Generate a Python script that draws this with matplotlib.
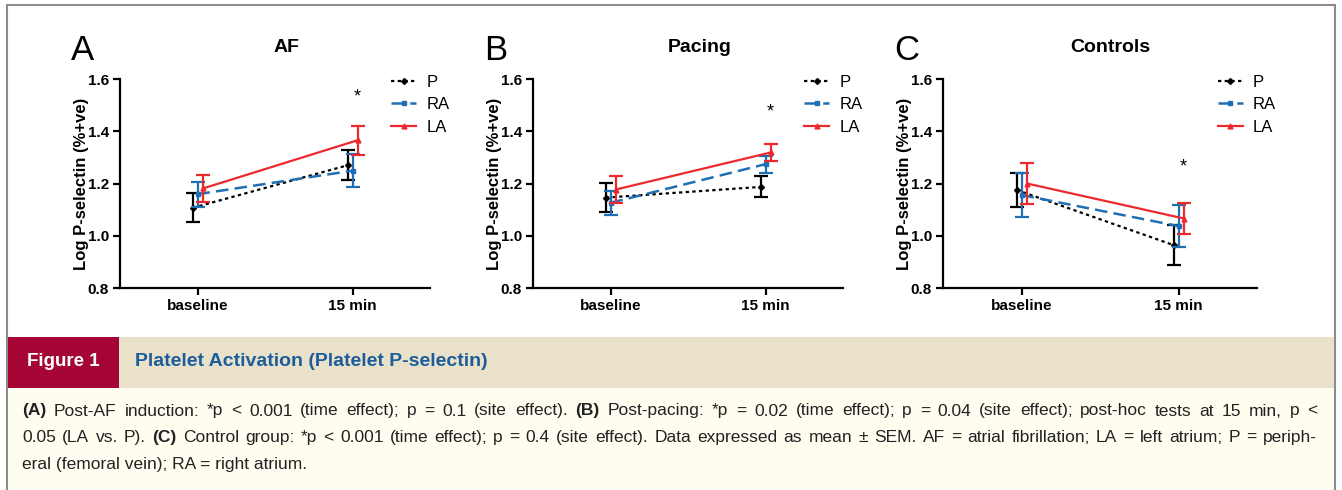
import matplotlib
matplotlib.use("Agg")
import matplotlib.pyplot as plt
from matplotlib.patches import Rectangle
from matplotlib.lines import Line2D

plt.rcParams['font.family'] = ['Liberation Sans', 'DejaVu Sans']

W, H = 1342, 490

# data (mean, SEM) at baseline / 15 min
groups = ['baseline', '15 min']
panels = ['AF', 'Pacing', 'Controls']
letters = ['A', 'B', 'C']

p_mean = [[1.107, 1.270], [1.146, 1.187], [1.175, 0.964]]
p_sem = [[0.055, 0.057], [0.055, 0.040], [0.064, 0.077]]
ra_mean = [[1.159, 1.249], [1.126, 1.274], [1.156, 1.037]]
ra_sem = [[0.048, 0.064], [0.045, 0.032], [0.083, 0.081]]
la_mean = [[1.181, 1.366], [1.177, 1.319], [1.200, 1.066]]
la_sem = [[0.051, 0.056], [0.052, 0.032], [0.079, 0.061]]
star_y = [1.532, 1.475, 1.262]

caption = [
    [("(A)", "bold"), (" Post-AF induction: *p < 0.001 (time effect); p = 0.1 (site effect). ", "normal"),
     ("(B)", "bold"), (" Post-pacing: *p = 0.02 (time effect); p = 0.04 (site effect); post-hoc tests at 15 min, p <", "normal")],
    [("0.05 (LA vs. P). ", "normal"), ("(C)", "bold"),
     (" Control group: *p < 0.001 (time effect); p = 0.4 (site effect). Data expressed as mean \u00b1 SEM. AF = atrial fibrillation; LA = left atrium; P = periph-", "normal")],
]
caption_last = "eral (femoral vein); RA = right atrium."


def box(x0, y0, x1, y1):
    return [x0 / W, 1 - y1 / H, (x1 - x0) / W, (y1 - y0) / H]


fig = plt.figure(figsize=(W / 100, H / 100), dpi=100)

# outer frame and bottom bands (behind the axes)
fig.patches.append(Rectangle((7 / W, 0), (1335 - 7) / W, 1 - 5 / H, transform=fig.transFigure,
                             facecolor='white', edgecolor='#8c8c8c', lw=1.5, zorder=-5))
fig.patches.append(Rectangle((7.8 / W, 1 - 388 / H), (1334.2 - 7.8) / W, 51 / H, transform=fig.transFigure,
                             facecolor='#e9e1c9', edgecolor='none', zorder=-4))
fig.patches.append(Rectangle((7.8 / W, 1 - 388 / H), (119 - 7.8) / W, 51 / H, transform=fig.transFigure,
                             facecolor='#a50534', edgecolor='none', zorder=-3))
fig.patches.append(Rectangle((7.8 / W, 0), (1334.2 - 7.8) / W, 1 - 388 / H, transform=fig.transFigure,
                             facecolor='#fffdf0', edgecolor='none', zorder=-4))
fig.text(63 / W, 1 - 362 / H, "Figure 1", color='white', fontsize=13.5, weight='bold',
         ha='center', va='center')
fig.text(135 / W, 1 - 362 / H, "Platelet Activation (Platelet P-selectin)", color='#1d5d9b',
         fontsize=14, weight='bold', ha='left', va='center')

styles = {
    'P': dict(color='black', ls=(0, (1.5, 1.5)), lw=1.6, marker='D', ms=3),
    'RA': dict(color='#1f6fb4', ls=(0, (5, 2.5)), lw=1.8, marker='s', ms=3.5),
    'LA': dict(color='#ec2a2e', ls='-', lw=1.6, marker='^', ms=3.5),
}

axes_x = [(120, 430), (533, 843), (943, 1257)]
x = [0, 1]
for i in range(3):
    ax = fig.add_axes(box(axes_x[i][0], 79, axes_x[i][1], 288))
    ax.patch.set_alpha(0)
    ax.errorbar([v - 0.03 for v in x], p_mean[i], yerr=p_sem[i], capsize=5, elinewidth=1.6,
                capthick=1.6, zorder=3, **styles['P'])
    ax.errorbar(x, ra_mean[i], yerr=ra_sem[i], capsize=5, elinewidth=1.6,
                capthick=1.6, zorder=4, **styles['RA'])
    ax.errorbar([v + 0.035 for v in x], la_mean[i], yerr=la_sem[i], capsize=5, elinewidth=1.6,
                capthick=1.6, zorder=5, **styles['LA'])
    ax.text(1.03, star_y[i], '*', ha='center', va='center', fontsize=13)
    ax.set_xlim(-0.5, 1.5)
    ax.set_ylim(0.8, 1.6)
    ax.set_yticks([0.8, 1.0, 1.2, 1.4, 1.6])
    ax.set_yticklabels(['0.8', '1.0', '1.2', '1.4', '1.6'])
    ax.set_xticks(x)
    ax.set_xticklabels(groups)
    for s in ['top', 'right']:
        ax.spines[s].set_visible(False)
    for s in ['left', 'bottom']:
        ax.spines[s].set_linewidth(1.6)
    ax.tick_params(width=1.6, length=5, labelsize=11, pad=3)
    for t in ax.get_xticklabels() + ax.get_yticklabels():
        t.set_fontweight('bold')
    ax.set_ylabel('Log P-selectin (%+ve)', fontsize=12, weight='bold', labelpad=-1)
    handles = [Line2D([], [], **styles[k]) for k in ['P', 'RA', 'LA']]
    ax.legend(handles, ['P', 'RA', 'LA'], loc='upper left', bbox_to_anchor=(0.875, 1.021),
              frameon=False, fontsize=12, handlelength=1.5, handletextpad=0.6,
              labelspacing=0.45, borderaxespad=0, borderpad=0)
    x0 = axes_x[i][0]
    fig.text((x0 - 49) / W, 1 - 50 / H, letters[i], fontsize=25, ha='left', va='center')
    fig.text((x0 + 167) / W, 1 - 47 / H, panels[i], fontsize=14, weight='bold', ha='center', va='center')

# caption: words placed one by one so lines 1 and 2 are justified
fig.canvas.draw()
r = fig.canvas.get_renderer()
fs = 12.5
left, right = 22, 1317
for k, line in enumerate(caption):
    yp = 411 + k * 26.5
    words = []  # (text, weight, space_before)
    pending = False
    for seg, wt in line:
        for j, w in enumerate(seg.split(' ')):
            if j > 0:
                pending = True
            if w:
                words.append((w, wt, pending and len(words) > 0))
                pending = False
    texts = []
    for w, wt, sp in words:
        t = fig.text(0, 1 - yp / H, w, fontsize=fs, weight=wt, ha='left', va='center', color='#222222')
        texts.append((t, t.get_window_extent(renderer=r).width, sp))
    ngaps = sum(1 for _, _, sp in texts if sp)
    total = sum(wdt for _, wdt, _ in texts)
    gap = (right - left - total) / ngaps
    xp = left
    for t, wdt, sp in texts:
        if sp:
            xp += gap
        t.set_x(xp / W)
        xp += wdt
fig.text(left / W, 1 - (411 + 2 * 26.5) / H, caption_last, fontsize=fs, ha='left', va='center',
         color='#222222')

fig.savefig('out.png', dpi=100)
